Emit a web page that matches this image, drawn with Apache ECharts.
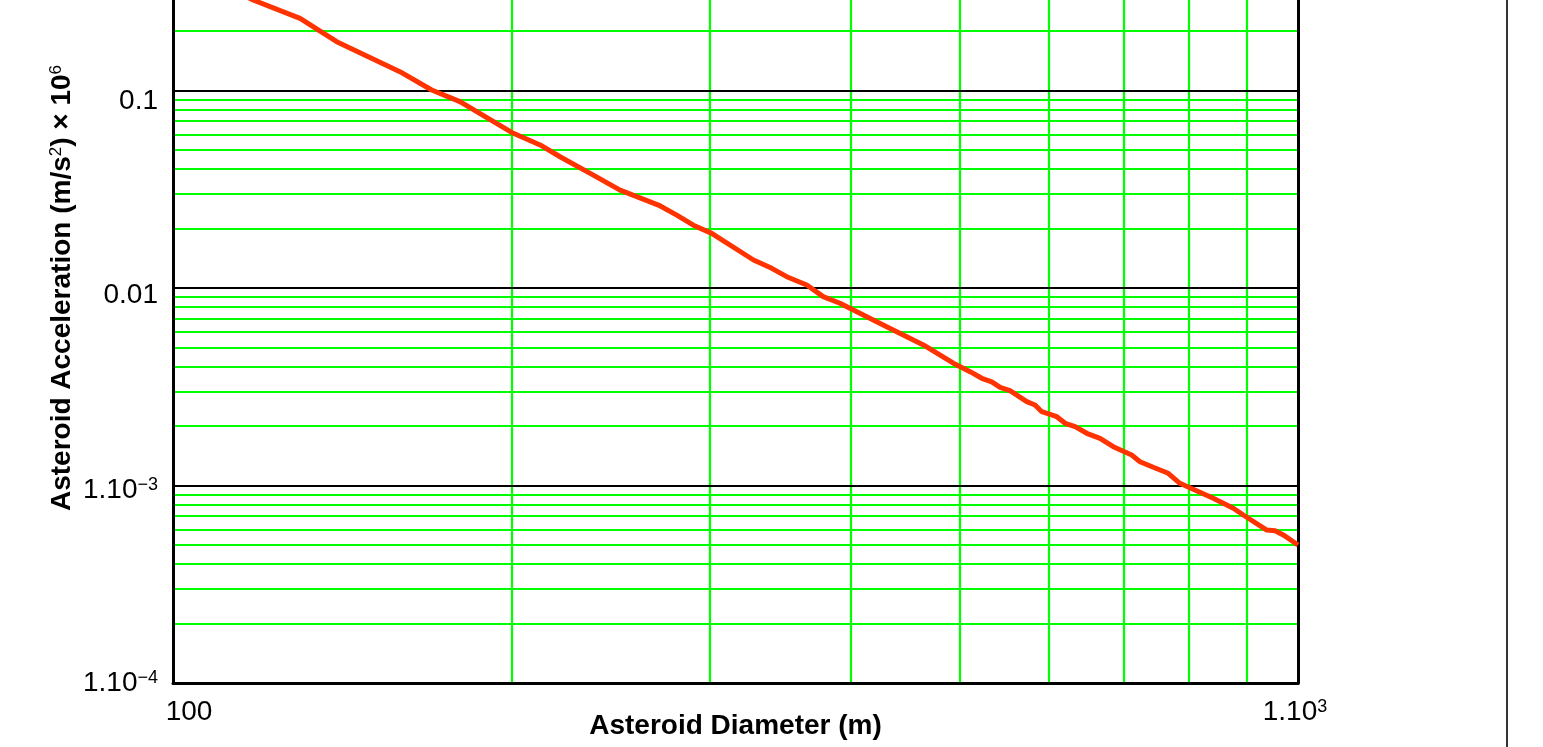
<!DOCTYPE html>
<html><head><meta charset="utf-8">
<script src="https://cdn.jsdelivr.net/npm/echarts@6/dist/echarts.min.js"></script>
<style>html,body{margin:0;padding:0;background:#fff}#c{width:1543px;height:747px}</style>
</head><body><div id="c"></div>
<script>
// ---- data ----
const diameters = [110, 117.8, 129.7, 139.8, 159.1, 169.8, 179.9, 200.7, 212.0, 220.8, 236.4, 249.7, 270.1, 280.4, 290.1, 301.2, 328.1, 340.6, 351.2, 365.9, 378.4, 391.6, 430.9, 464.5, 493.9, 511.1, 523.5, 534.3, 543.5, 554.6, 574.0, 583.8, 591.9, 610.4, 620.9, 633.7, 649.0, 666.8, 685.2, 711.5, 723.7, 743.6, 766.7, 785.3, 806.9, 840.7, 876.0, 894.1, 938.1, 954.1, 970.3, 990.4, 1000];
const accelerations = [0.35, 0.2872, 0.2320, 0.1767, 0.1245, 0.1006, 0.0878, 0.0607, 0.0530, 0.0462, 0.0373, 0.0313, 0.0263, 0.0234, 0.0208, 0.0189, 0.01386, 0.01258, 0.01141, 0.01035, 0.00904, 0.00837, 0.00637, 0.00515, 0.00416, 0.00377, 0.00349, 0.00335, 0.00314, 0.00302, 0.002657, 0.002557, 0.002364, 0.002231, 0.002065, 0.001985, 0.001838, 0.001734, 0.001572, 0.001427, 0.001320, 0.001237, 0.001153, 0.001026, 0.000957, 0.000861, 0.000767, 0.000709, 0.000595, 0.000590, 0.000562, 0.000519, 0.000500];
const xMinorGrid = [200, 300, 400, 500, 600, 700, 800, 900];
const yMinorGrid = [2e-4,3e-4,4e-4,5e-4,6e-4,7e-4,8e-4,9e-4, 2e-3,3e-3,4e-3,5e-3,6e-3,7e-3,8e-3,9e-3, 0.02,0.03,0.04,0.05,0.06,0.07,0.08,0.09, 0.2,0.3,0.4,0.5,0.6,0.7,0.8,0.9];
const xTickExps = [2, 3];
const xTickText = ['100', '1.10'];
const xTickSup = ['', '3'];
const yTickExps = [-4, -3, -2, -1];
const yTickText = ['1.10', '1.10', '0.01', '0.1'];
const yTickSup = ['\u22124', '\u22123', '', ''];
const xTitle = 'Asteroid Diameter (m)';
const yTitleParts = ['Asteroid Acceleration (m/s', '2', ') \u00d7 10', '6'];

// ---- styling ----
const FF = "'Liberation Sans',Arial,Helvetica,sans-serif";
const GREEN = '#00ff00';
const yShift = [0.2, 4.7, 7.2, 10.7];   // per-label vertical nudge (px)
const xShift = [16, -3];                 // per-label horizontal nudge (px)

function vpad(s) { return s >= 0 ? [2 * s, 0, 0, 0] : [0, 0, -2 * s, 0]; }

const yRich = {};
yShift.forEach((s, i) => {
  yRich['m' + i] = { fontFamily: FF, fontSize: 28, color: '#000', padding: vpad(s) };
  yRich['s' + i] = { fontFamily: FF, fontSize: 18, color: '#000', verticalAlign: 'top', padding: vpad(s) };
});
const xRich = {};
xShift.forEach((s, i) => {
  const hasSup = !!xTickSup[i];
  const left = s > 0 ? 2 * s : 0, right = s < 0 ? -2 * s : 0;
  xRich['m' + i] = { fontFamily: FF, fontSize: 28, color: '#000', padding: [0, hasSup ? 0 : right, 0, left] };
  xRich['s' + i] = { fontFamily: FF, fontSize: 18, color: '#000', verticalAlign: 'top', padding: [0, right, 0, 0] };
});

function fmt(exps, texts, sups) {
  return function (v) {
    const e = Math.round(Math.log10(v));
    const i = exps.indexOf(e);
    if (i < 0) return '';
    let out = '{m' + i + '|' + texts[i] + '}';
    if (sups[i]) out += '{s' + i + '|' + sups[i] + '}';
    return out;
  };
}

const chart = echarts.init(document.getElementById('c'), null, { renderer: 'canvas' });
chart.setOption({
  animation: false,
  backgroundColor: '#fff',
  grid: { left: 173, right: 245, top: -107, bottom: 64, show: false, containLabel: false, outerBoundsMode: 'none' },
  xAxis: {
    type: 'log', logBase: 10, min: 100, max: 1000, z: 3,
    name: xTitle, nameLocation: 'middle', nameGap: 29, nameMoveOverlap: false,
    nameTextStyle: { fontFamily: FF, fontSize: 28, fontWeight: 'bold', color: '#000' },
    axisLine: { show: true, lineStyle: { color: '#000', width: 3 } },
    axisTick: { show: false },
    splitLine: { show: false },
    axisLabel: { margin: 15, formatter: fmt(xTickExps, xTickText, xTickSup), rich: xRich }
  },
  yAxis: [{
    type: 'log', logBase: 10, min: 1e-4, max: 1, z: 3,
    name: '{t|' + yTitleParts[0] + '}{s|' + yTitleParts[1] + '}{t|' + yTitleParts[2] + '}{s|' + yTitleParts[3] + '}',
    nameLocation: 'middle', nameGap: 97, nameMoveOverlap: false,
    nameTextStyle: {
      rich: {
        t: { fontFamily: FF, fontSize: 28, fontWeight: 'bold', color: '#000' },
        s: { fontFamily: FF, fontSize: 17, color: '#000', verticalAlign: 'top' }
      }
    },
    axisLine: { show: true, lineStyle: { color: '#000', width: 3 } },
    axisTick: { show: false },
    splitLine: { show: true, lineStyle: { color: '#000', width: 2 } },
    axisLabel: { margin: 15, formatter: fmt(yTickExps, yTickText, yTickSup), rich: yRich }
  }, {
    type: 'log', logBase: 10, min: 1e-4, max: 1, position: 'right', z: 3,
    axisLine: { show: true, onZero: false, lineStyle: { color: '#000', width: 3 } },
    axisTick: { show: false }, axisLabel: { show: false }, splitLine: { show: false }
  }],
  series: [{
    type: 'line',
    z: 5,
    data: diameters.map((d, i) => [d, accelerations[i]]),
    showSymbol: false,
    symbol: 'none',
    lineStyle: { color: '#ff3300', width: 5 },
    silent: true,
    markLine: {
      z: 1, silent: true, symbol: 'none', animation: false, precision: 10,
      label: { show: false },
      lineStyle: { color: GREEN, width: 2.2, type: 'solid' },
      emphasis: { disabled: true },
      data: xMinorGrid.map(v => ({ xAxis: v })).concat(yMinorGrid.map(v => ({ yAxis: v })))
    }
  }],
  graphic: [{
    type: 'line', shape: { x1: 1507, y1: 0, x2: 1507, y2: 747 },
    style: { stroke: '#333', lineWidth: 2 }, silent: true
  }]
});
</script></body></html>
